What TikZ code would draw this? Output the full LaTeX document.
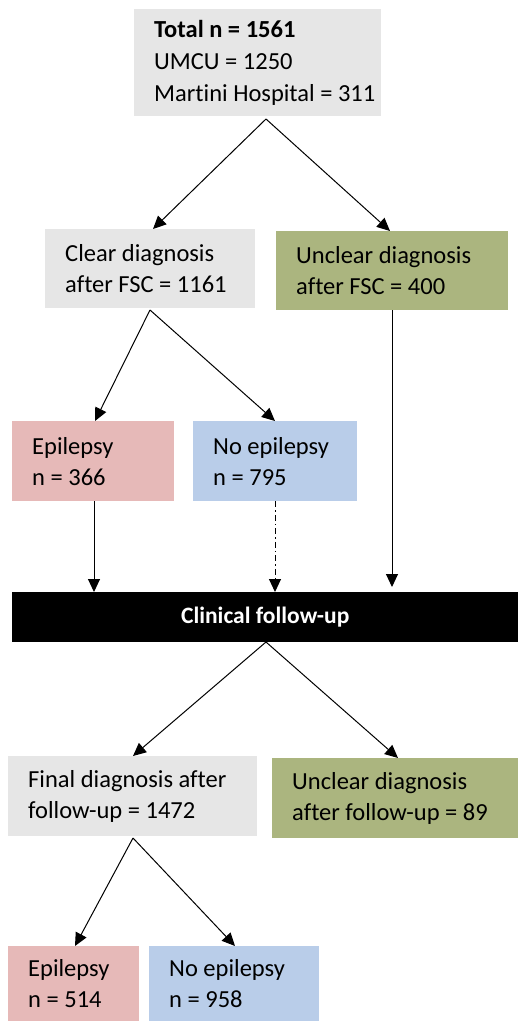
\documentclass[tikz,border=0pt]{standalone}
\usepackage{fontspec}
\setmainfont[Ligatures={NoCommon,NoRare,NoDiscretionary}]{Carlito}
\usetikzlibrary{arrows.meta}
\definecolor{boxgray}{HTML}{E6E6E6}
\definecolor{boxgreen}{HTML}{ABB57F}
\definecolor{boxpink}{HTML}{E6B9B8}
\definecolor{boxblue}{HTML}{B9CDE9}
\tikzset{
  fbox/.style={anchor=north west, inner sep=0pt},
  ftext/.style={anchor=west, inner sep=0pt, align=left,
    font=\fontsize{24.5}{31}\selectfont, text=black},
  arr/.style={draw=black, line width=1pt, -{Triangle[length=13pt,width=12pt]}},
}
\newcommand{\mybox}[7]{% name, color, x1, y1, x2, y2, text
  \node[fbox, fill=#2, minimum width={(#5-#3)*1pt}, minimum height={(#6-#4)*1pt}] (#1) at (#3,#4) {};
  \node[ftext] (#1t) at ([xshift=20pt]#1.west) {#7};}
\begin{document}
\begin{tikzpicture}[x=1pt,y=-1pt]
\useasboundingbox (0,0) rectangle (518,1021);
\mybox{top}{boxgray}{134}{9}{381}{116}{\textbf{Total n = 1561}\\[1pt]UMCU = 1250\\[1pt]Martini Hospital = 311}
\mybox{clear}{boxgray}{45}{229}{255}{308}{Clear diagnosis\\after FSC = 1161}
\mybox{unclear}{boxgreen}{276}{231}{508}{310}{Unclear diagnosis\\after FSC = 400}
\mybox{epi}{boxpink}{12}{421}{174}{501}{Epilepsy\\n = 366}
\mybox{noepi}{boxblue}{193}{421}{357}{501}{No epilepsy\\n = 795}
\node[fill=black, anchor=north west, minimum width=506pt, minimum height=50pt, inner sep=0pt,
      text=white, font=\fontsize{23.5}{28}\selectfont\bfseries] (clin) at (12,592) {Clinical follow-up};
\mybox{final}{boxgray}{8}{756}{257}{836}{Final diagnosis after\\follow-up = 1472}
\mybox{unclear2}{boxgreen}{272}{758}{518}{838}{Unclear diagnosis\\after follow-up = 89}
\mybox{epi2}{boxpink}{8}{946}{139}{1021}{Epilepsy\\n = 514}
\mybox{noepi2}{boxblue}{149}{946}{319}{1021}{No epilepsy\\n = 958}

\coordinate (topb) at (266,119);
\draw[arr] (topb) -- (clear.north -| 153,0);
\draw[arr] (topb) -- (unclear.north -| 390,0);
\coordinate (clearb) at (150,310);
\draw[arr] (clearb) -- (epi.north -| 95,0);
\draw[arr] (clearb) -- (noepi.north -| 275,0);
\draw[arr] (epi.south -| 94,0) -- (clin.north -| 94,0);
\draw[arr, dash pattern=on 6pt off 3pt on 1.5pt off 3pt] (noepi.south -| 275,0) -- (clin.north -| 275,0);
\draw[arr] (unclear.south -| 392,0) -- (392,587);
\coordinate (clinb) at (266,642);
\draw[arr] (clinb) -- (final.north -| 133,0);
\draw[arr] (clinb) -- (unclear2.north -| 398,0);
\coordinate (finalb) at (133,838);
\draw[arr] (finalb) -- (epi2.north -| 75,0);
\draw[arr] (finalb) -- (noepi2.north -| 235,0);
\end{tikzpicture}
\end{document}
